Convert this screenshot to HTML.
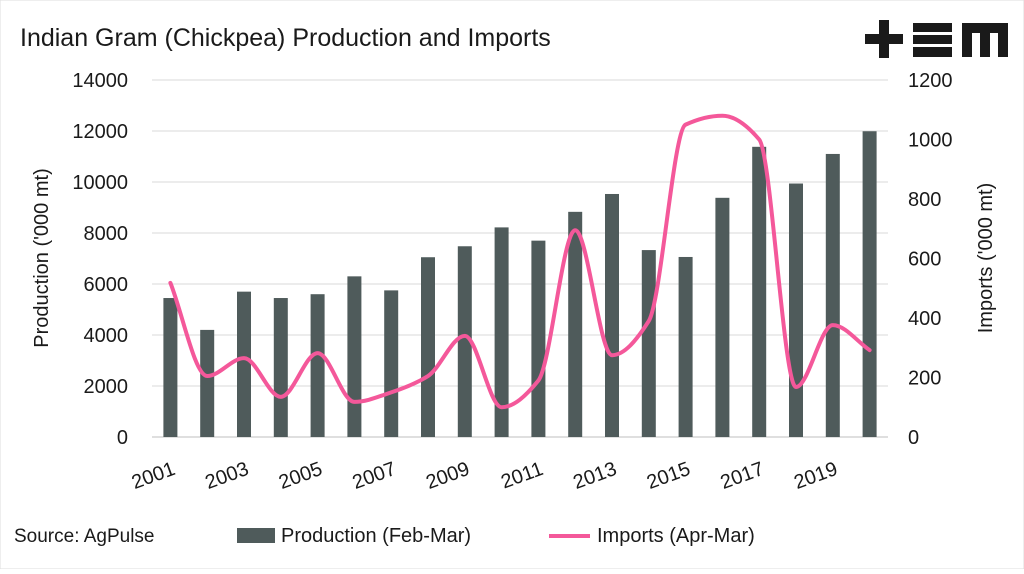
<!DOCTYPE html>
<html><head><meta charset="utf-8"><style>
body{margin:0;background:#fff;}
svg text{font-family:"Liberation Sans",sans-serif;fill:#1a1a1a;}
</style></head><body>
<svg width="1024" height="569">
<rect x="0" y="0" width="1024" height="569" fill="#fff" stroke="#ddd"/>
<text x="20" y="46" font-size="25">Indian Gram (Chickpea) Production and Imports</text>
<g fill="#1a1a1a">
<rect x="865" y="34" width="38" height="10"/><rect x="879" y="20" width="10" height="38"/>
<rect x="913" y="23" width="39" height="9"/><rect x="913" y="35" width="39" height="9"/><rect x="913" y="47" width="39" height="10"/>
<path d="M962 23H1008V57H998V33H990V57H980V33H972V57H962Z"/>
</g>
<g id="grid"></g><g id="bars"></g><g id="line"></g><g id="axes"></g>
<text transform="translate(48,258) rotate(-90)" text-anchor="middle" font-size="20">Production ('000 mt)</text>
<text transform="translate(992,258) rotate(-90)" text-anchor="middle" font-size="20">Imports ('000 mt)</text>
<text x="14" y="542" font-size="19">Source: AgPulse</text>
<g><rect x="237" y="528" width="38" height="15" fill="#4f5b5b"/><text x="281" y="542" font-size="20">Production (Feb-Mar)</text></g>
<g><line x1="549" y1="536" x2="590" y2="536" stroke="#f4589a" stroke-width="4"/><text x="597" y="542" font-size="20">Imports (Apr-Mar)</text></g>
</svg>
<script>
const years=[2001,2002,2003,2004,2005,2006,2007,2008,2009,2010,2011,2012,2013,2014,2015,2016,2017,2018,2019,2020];
const production=[5450,4200,5700,5450,5600,6300,5750,7050,7480,8220,7700,8830,9530,7330,7060,9380,11380,9940,11100,11990];
const imports=[518,205,265,135,282,118,150,205,340,100,190,695,275,390,1050,1080,1000,168,376,292];
const leftTicks=[0,2000,4000,6000,8000,10000,12000,14000];
const rightTicks=[0,200,400,600,800,1000,1200];
const NS="http://www.w3.org/2000/svg";
const x0=152,x1=888,yb=437,yt=80;
const step=(x1-x0)/years.length;
const xs=i=>x0+step*(i+0.5);
const yL=v=>yb-(v/14000)*(yb-yt);
const yR=v=>yb-(v/1200)*(yb-yt);
function mk(t,a,p){const e=document.createElementNS(NS,t);for(const k in a)e.setAttribute(k,a[k]);p.appendChild(e);return e;}
const grid=document.getElementById('grid'),axes=document.getElementById('axes');
leftTicks.forEach(v=>{
 const l=mk('line',{x1:x0,x2:x1,y1:yL(v),y2:yL(v),stroke:v?'#d9d9d9':'#bfbfbf','stroke-width':1},grid);
 
 
 const t=mk('text',{x:128,y:yL(v)+7,'text-anchor':'end','font-size':20},axes);t.textContent=v;
 
 
});
rightTicks.forEach(v=>{
 const t=mk('text',{x:908,y:yR(v)+7,'font-size':20},axes);t.textContent=v;
 
 
});
years.forEach((y,i)=>{
 if(i%2===0){const t=mk('text',{transform:`translate(${xs(i)+6},${474}) rotate(-20)`,'text-anchor':'end','font-size':20},axes);t.textContent=y;
 
 }
});
const bars=document.getElementById('bars');
production.forEach((v,i)=>{
 const r=mk('rect',{x:xs(i)-7,y:yL(v),width:14,height:yb-yL(v),fill:'#4f5b5b'},bars);
 
 
});
// monotone cubic interpolation
const pts=imports.map((v,i)=>[xs(i),yR(v)]);
const n=pts.length,dl=[],m=[];
for(let i=0;i<n-1;i++)dl.push((pts[i+1][1]-pts[i][1])/step);
m[0]=dl[0];m[n-1]=dl[n-2];
for(let i=1;i<n-1;i++){m[i]=(dl[i-1]*dl[i]<=0)?0:(2/(1/dl[i-1]+1/dl[i]));}
let d=`M${pts[0][0]},${pts[0][1]}`;
for(let i=0;i<n-1;i++){
 const h=step/3;
 d+=` C${pts[i][0]+h},${pts[i][1]+m[i]*h} ${pts[i+1][0]-h},${pts[i+1][1]-m[i+1]*h} ${pts[i+1][0]},${pts[i+1][1]}`;
}
const ln=mk('path',{d:d,fill:'none',stroke:'#f4589a','stroke-width':4,'stroke-linecap':'round'},document.getElementById('line'));


</script>
</body></html>
